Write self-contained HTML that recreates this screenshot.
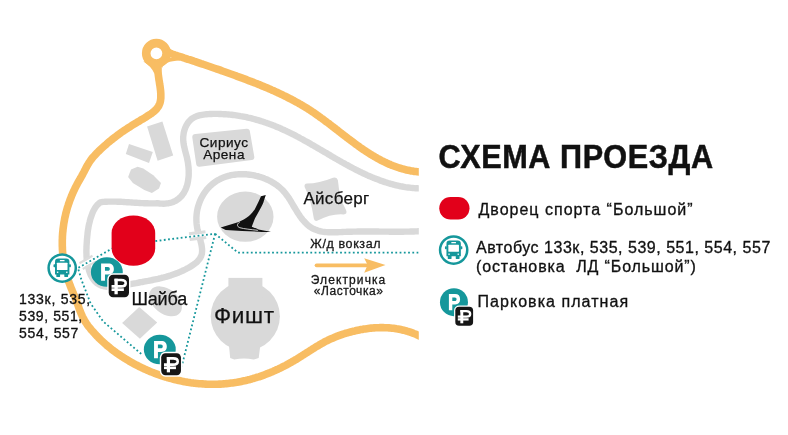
<!DOCTYPE html>
<html>
<head>
<meta charset="utf-8">
<style>
html,body{margin:0;padding:0;background:#fff;width:788px;height:435px;overflow:hidden}
svg{display:block;position:absolute;left:0;top:0;will-change:transform}
text{font-family:"Liberation Sans",sans-serif;fill:#111}
</style>
</head>
<body>
<svg width="788" height="435" viewBox="0 0 788 435">
<defs>
<clipPath id="mapclip"><rect x="0" y="0" width="418.8" height="435"/></clipPath>
</defs>
<g clip-path="url(#mapclip)">
<!-- gray roads -->
<path fill="none" stroke="#d9d9d9" stroke-width="6.4" stroke-linecap="butt" stroke-linejoin="round" d="M425.1,188.5 L423.5,188.5 L421.9,188.5 L420.4,188.5 L418.8,188.4 L417.3,188.3 L415.7,188.3 L414.2,188.1 L412.7,188.0 L411.2,187.9 L409.7,187.7 L408.2,187.5 L406.7,187.3 L405.2,187.1 L403.7,186.8 L402.2,186.5 L400.8,186.3 L399.3,186.0 L397.8,185.6 L396.4,185.3 L394.9,185.0 L393.5,184.6 L392.1,184.2 L390.6,183.8 L389.2,183.4 L387.8,183.0 L386.4,182.5 L385.0,182.1 L383.5,181.6 L382.1,181.1 L380.7,180.7 L379.3,180.1 L378.0,179.6 L376.6,179.1 L375.2,178.5 L373.8,178.0 L372.4,177.4 L371.1,176.8 L369.7,176.3 L368.3,175.7 L367.0,175.1 L365.6,174.4 L364.3,173.8 L362.9,173.2 L361.6,172.5 L360.2,171.9 L358.9,171.2 L357.5,170.5 L356.2,169.9 L354.9,169.2 L353.5,168.5 L352.2,167.8 L350.9,167.1 L349.5,166.4 L348.2,165.6 L346.9,164.9 L345.6,164.2 L344.2,163.4 L342.9,162.7 L341.6,162.0 L340.3,161.2 L339.0,160.5 L337.7,159.7 L336.4,159.0 L335.0,158.2 L333.7,157.4 L332.4,156.7 L331.1,155.9 L329.8,155.1 L328.5,154.4 L327.2,153.6 L325.9,152.8 L324.6,152.1 L323.2,151.3 L321.9,150.5 L320.6,149.7 L319.3,149.0 L318.0,148.2 L316.7,147.4 L315.4,146.7 L314.1,145.9 L312.7,145.2 L311.4,144.4 L310.1,143.6 L308.8,142.9 L307.5,142.1 L306.1,141.4 L304.8,140.7 L303.5,139.9 L302.2,139.2 L300.8,138.5 L299.5,137.8 L298.2,137.0 L296.8,136.3 L295.5,135.6 L294.2,134.9 L292.8,134.3 L291.5,133.6 L290.1,132.9 L288.8,132.2 L287.4,131.6 L286.0,130.9 L284.7,130.3 L283.3,129.7 L281.9,129.1 L280.6,128.4 L279.2,127.8 L277.8,127.3 L276.4,126.7 L275.0,126.1 L273.7,125.6 L272.3,125.0 L270.9,124.5 L269.5,124.0 L268.0,123.4 L266.6,122.9 L265.2,122.5 L263.8,122.0 L262.4,121.5 L261.0,121.1 L259.5,120.6 L258.1,120.2 L256.6,119.8 L255.2,119.4 L253.8,119.0 L252.3,118.6 L250.9,118.2 L249.4,117.9 L247.9,117.6 L246.5,117.2 L245.0,116.9 L243.5,116.6 L242.0,116.3 L240.5,116.1 L239.1,115.8 L237.6,115.6 L236.1,115.4 L234.6,115.2 L233.1,115.0 L231.5,114.8 L230.0,114.6 L228.5,114.5 L227.0,114.4 L225.4,114.2 L223.9,114.2 L222.4,114.1 L220.8,114.0 L219.3,114.0 L217.7,113.9 L216.2,113.9 L214.6,113.9 L213.0,113.9 L211.5,114.0 L209.9,114.0 L208.3,114.1 L206.7,114.2 L205.2,114.4 L203.6,114.6 L202.1,114.8 L200.6,115.1 L199.2,115.4 L197.8,115.8 L196.4,116.3 L195.1,116.9 L193.9,117.5 L192.7,118.2 L191.5,119.0 L190.5,119.9 L189.5,120.9 L188.6,122.0 L187.7,123.1 L187.0,124.3 L186.3,125.6 L185.6,126.9 L185.1,128.2 L184.6,129.6 L184.2,131.0 L183.8,132.5 L183.6,133.9 L183.4,135.4 L183.2,136.9 L183.2,138.4 L183.2,139.9 L183.3,141.4 L183.5,142.9 L183.7,144.4 L184.0,145.9 L184.3,147.3 L184.7,148.8 L185.0,150.3 L185.4,151.8 L185.8,153.3 L186.2,154.8 L186.6,156.3 L187.0,157.8 L187.3,159.3 L187.6,160.9 L187.9,162.4 L188.1,164.0 L188.3,165.6 L188.5,167.2 L188.6,168.8 L188.7,170.3 L188.7,171.9 L188.7,173.5 L188.7,175.1 L188.6,176.6 L188.4,178.2 L188.2,179.7 L188.0,181.2 L187.7,182.6 L187.4,184.1 L187.0,185.5 L186.5,186.9 L186.0,188.3 L185.5,189.6 L184.9,190.8 L184.2,192.1 L183.5,193.3 L182.7,194.4 L181.9,195.5 L181.0,196.5 L180.0,197.5 L179.0,198.4 L177.9,199.3 L176.8,200.0 L175.6,200.8 L174.3,201.4 L173.0,202.0 L171.6,202.5 L170.1,202.9 L168.6,203.2 L166.9,203.4 L165.3,203.6 L163.5,203.7 L161.7,203.6 L159.8,203.5 L158.4,203.3 L156.9,203.3 L155.3,203.4 L153.7,203.4 L152.2,203.4 L150.6,203.4 L149.0,203.4 L147.4,203.3 L145.9,203.3 L144.3,203.2 L142.7,203.1 L141.2,203.1 L139.6,203.0 L138.0,202.9 L136.5,202.8 L134.9,202.7 L133.3,202.6 L131.8,202.5 L130.2,202.4 L128.6,202.3 L127.1,202.2 L125.5,202.1 L123.9,202.0 L122.4,201.9 L120.8,201.8 L119.2,201.7 L117.7,201.7 L116.1,201.6 L114.5,201.6 L113.0,201.6 L111.4,201.6 L109.8,201.6 L108.3,201.6 L106.7,201.7 L105.1,201.8 L103.6,201.9 L102.0,202.0 L100.4,202.4 L99.3,203.2 L98.2,204.2 L97.1,205.2 L96.2,206.3 L95.4,207.4 L94.6,208.7 L93.9,210.0 L93.2,211.3 L92.6,212.6 L92.1,214.0 L91.6,215.4 L91.1,216.8 L90.6,218.2 L90.2,219.6 L89.8,221.1 L89.5,222.5 L89.1,224.0 L88.8,225.4 L88.5,226.9 L88.3,228.4 L88.0,229.9 L87.8,231.4 L87.6,232.9 L87.5,234.4 L87.3,235.9 L87.2,237.4 L87.0,238.9 L86.9,240.5 L86.8,242.0 L86.7,243.5 L86.6,245.1 L86.5,246.6 L86.5,248.1 L86.4,249.7 L86.4,251.2 L86.4,252.7 L86.5,254.3 L86.5,255.8 L86.6,257.3 L86.7,258.8 L86.9,260.3 L87.1,261.8 L87.3,263.3 L87.6,264.8 L87.9,266.3 L88.3,267.8 L88.7,269.2 L89.1,270.7 L89.6,272.1 L90.1,273.5 L90.7,274.9 L91.4,276.2 L92.1,277.4 L92.9,278.7 L93.7,279.8 L94.6,280.9 L95.6,281.9 L96.6,282.8 L97.7,283.6 L98.9,284.4 L100.1,285.0 L101.5,285.6 L102.9,286.0 L104.3,286.4 L105.8,286.6 L107.3,286.8 L108.8,287.0 L110.3,287.0 L111.8,287.0 L113.4,287.0 L114.9,286.9 L116.5,286.7 L118.0,286.5 L119.6,286.3 L121.1,286.1 L122.7,285.8 L124.2,285.5 L125.7,285.2 L127.3,284.9 L128.8,284.5 L130.3,284.2 L131.8,283.9 L133.3,283.6 L134.8,283.3 L136.3,283.1 L137.8,282.8 L139.3,282.5 L140.8,282.2 L142.3,282.0 L143.8,281.7 L145.2,281.4 L146.7,281.1 L148.1,280.9 L149.6,280.6 L151.0,280.3 L152.5,280.0 L153.9,279.7 L155.4,279.4 L156.8,279.1 L158.2,278.8 L159.7,278.4 L161.1,278.1 L162.5,277.7 L163.9,277.4 L165.4,277.0 L166.8,276.6 L168.2,276.2 L169.6,275.7 L171.0,275.3 L172.5,274.8 L173.9,274.3 L175.3,273.8 L176.7,273.2 L178.1,272.7 L179.5,272.1 L181.0,271.5 L182.4,270.8 L183.8,270.2 L185.2,269.5 L186.7,268.7 L188.1,268.0 L189.5,267.2 L190.9,266.4 L192.2,265.5 L193.5,264.6 L194.8,263.7 L196.0,262.8 L197.1,261.8 L198.1,260.7 L199.0,259.7 L199.8,258.6 L200.5,257.4 L201.1,256.2 L201.5,255.0 L201.9,253.8 L202.0,252.5 L202.1,251.1 L202.1,249.8 L202.0,248.4 L201.8,246.9 L201.6,245.5 L201.3,244.0 L200.9,242.5 L200.6,241.0 L200.1,239.5 L199.7,238.0 L199.3,236.4 L198.8,234.8 L198.4,233.3 L198.0,231.7 L197.6,230.1 L197.3,228.5 L197.0,226.9 L196.8,225.3 L196.6,223.8 L196.5,222.2 L196.4,220.6 L196.4,219.1 L196.4,217.5 L196.5,216.0 L196.6,214.4 L196.8,212.9 L197.0,211.4 L197.3,209.9 L197.6,208.4 L198.0,207.0 L198.4,205.5 L198.9,204.1 L199.4,202.7 L199.9,201.3 L200.5,199.9 L201.1,198.6 L201.8,197.3 L202.5,196.0 L203.2,194.7 L204.0,193.5 L204.8,192.3 L205.7,191.1 L206.6,189.9 L207.5,188.8 L208.5,187.7 L209.5,186.7 L210.6,185.7 L211.6,184.7 L212.7,183.8 L213.9,182.9 L215.1,182.0 L216.3,181.2 L217.5,180.4 L218.8,179.7 L220.1,179.0 L221.4,178.4 L222.7,177.8 L224.1,177.3 L225.5,176.8 L226.9,176.3 L228.3,175.9 L229.8,175.5 L231.3,175.2 L232.7,174.9 L234.3,174.7 L235.8,174.5 L237.3,174.4 L238.8,174.2 L240.4,174.2 L241.9,174.2 L243.5,174.2 L245.0,174.2 L246.6,174.3 L248.1,174.5 L249.7,174.7 L251.3,174.9 L252.8,175.1 L254.3,175.4 L255.9,175.8 L257.4,176.1 L258.9,176.6 L260.4,177.0 L261.9,177.5 L263.4,178.0 L264.8,178.6 L266.3,179.2 L267.7,179.8 L269.1,180.5 L270.4,181.2 L271.8,181.9 L273.1,182.7 L274.4,183.5 L275.6,184.3 L276.9,185.2 L278.0,186.1 L279.2,187.0 L280.3,188.0 L281.4,189.0 L282.5,190.0 L283.5,191.1 L284.4,192.2 L285.4,193.3 L286.2,194.5 L287.1,195.6 L288.0,196.8 L288.8,198.0 L289.6,199.3 L290.4,200.5 L291.1,201.8 L291.9,203.1 L292.7,204.4 L293.4,205.7 L294.2,207.0 L295.0,208.3 L295.8,209.6 L296.6,210.9 L297.4,212.2 L298.2,213.5 L299.1,214.8 L299.9,216.1 L300.8,217.3 L301.7,218.6 L302.7,219.8 L303.7,220.9 L304.7,222.0 L305.7,223.1 L306.8,224.2 L307.8,225.1 L309.0,226.1 L310.1,226.9 L311.3,227.7 L312.6,228.4 L313.8,229.1 L315.1,229.6 L316.5,230.1 L317.9,230.6 L319.3,231.0 L320.7,231.3 L322.2,231.6 L323.6,231.8 L325.1,232.0 L326.7,232.1 L328.2,232.2 L329.7,232.3 L331.3,232.3 L332.9,232.3 L334.5,232.3 L336.0,232.3 L337.6,232.2 L339.2,232.1 L340.8,232.1 L342.4,232.0 L343.9,231.9 L345.5,231.9 L347.1,231.8 L348.6,231.8 L350.2,231.7 L351.7,231.7 L353.2,231.6 L354.7,231.6 L356.2,231.6 L357.7,231.5 L359.2,231.5 L360.7,231.5 L362.2,231.5 L363.6,231.5 L365.1,231.5 L366.6,231.5 L368.0,231.5 L369.5,231.5 L370.9,231.5 L372.4,231.5 L373.8,231.5 L375.3,231.5 L376.7,231.5 L378.2,231.5 L379.6,231.6 L381.1,231.6 L382.5,231.6 L384.0,231.6 L385.4,231.6 L386.9,231.6 L388.3,231.6 L389.8,231.7 L391.2,231.7 L392.7,231.7 L394.1,231.7 L395.6,231.7 L397.1,231.7 L398.6,231.7 L400.1,231.7 L401.6,231.7 L403.1,231.7 L404.6,231.6 L406.1,231.6 L407.6,231.6 L409.1,231.6 L410.7,231.5 L412.2,231.5 L413.8,231.5 L415.3,231.4 L416.9,231.4 L418.5,231.3 L420.1,231.2 L421.7,231.2 L423.4,231.1 L425.0,231.0"/>
<!-- crossings -->
<g transform="translate(87.6,262.4) rotate(-29.8)">
<rect x="-9" y="-2.3" width="18" height="4.6" fill="#fff"/>
<rect x="-7.5" y="-4.4" width="15" height="2.1" fill="#dcdcdc"/>
<rect x="-7.5" y="2.3" width="15" height="2.1" fill="#dcdcdc"/>
</g>
<g transform="translate(197.6,235.6) rotate(-6.9)">
<rect x="-9" y="-1.4" width="18" height="2.8" fill="#fff"/>
<rect x="-8.3" y="-4.4" width="16.6" height="3" fill="#dcdcdc"/>
<rect x="-8.3" y="1.4" width="16.6" height="3" fill="#dcdcdc"/>
</g>
<!-- buildings -->
<g fill="#d9d9d9">
<polygon points="147.1,126.4 162.4,121.6 173.2,155.5 157.6,160.7"/>
<polygon points="129,144.1 152.8,152.1 149,163.1 125.8,154"/>
<polygon points="137.6,166.7 143.3,168.6 153.3,175.2 161,182.9 159,188.6 151.9,192.9 144.3,190 132.9,182.9 128.1,177.1 131,169.5"/>
<path d="M195.5,134.1 L246.5,128.8 Q249.5,128.5 249.9,131.5 L254.3,156.7 Q254.7,159.7 251.7,160.1 L199.6,166.7 Q196.6,167 196.2,164 L192.3,137.4 Q192,134.4 195.5,134.1Z"/>
<ellipse cx="245.3" cy="216.7" rx="28.2" ry="25.1"/>
<path d="M304.6,187 Q304,184 307,183.6 Q319,183.5 333,177.8 Q337,176.6 337.9,180.2 Q339.5,199 346,210 Q347.8,214.2 343.6,214.4 Q331,213.5 318.2,220.3 Q314.5,222.3 313.8,218.5 Q311,199 304.6,187 Z"/>
<ellipse cx="165.5" cy="301.3" rx="18.5" ry="12.3" transform="rotate(38 165.5 301.3)"/>
<polygon points="122.1,323 139.2,306.9 157.2,322.5 139.9,338.8"/>
<circle cx="245.3" cy="316.2" r="34.6"/>
<rect x="228.4" y="277.9" width="34" height="20"/>
<path d="M228.4,340 L261,340 L258.7,358.1 L253.6,359.6 Q244,357.5 234.3,359.6 L230.2,358.1 Z"/>
</g>
<!-- swoosh -->
<path fill="#111" d="M261,196.3 L265.8,195.1 C264.8,198 264,200.5 263.4,202.6 C261,208 256.5,216 254.7,219 L252.3,225.3 L251.8,226.7 C255,228 257,229 258.5,229.4 C263,230.3 267,231 271,231.7 C267,232.1 262,232 258.5,231.7 L242.1,231 L225.7,230 L220.7,227.6 L238.8,221.9 C241.5,221 246,218.5 248.9,216.1 C251.5,213.5 253.5,211 254.7,209.4 L258.5,201.7 Z"/>
<path fill="none" stroke="#e8e8e8" stroke-width="0.85" stroke-linecap="round" d="M239.4,222.3 C236.6,224.2 236.8,226.6 239.8,227.7 C244,228.9 251,229.5 257.5,230.3"/>
<!-- orange road -->
<g fill="none" stroke="#f8bd63" stroke-linecap="butt" stroke-linejoin="round">
<path stroke-width="7.6" d="M425.3,172.3 L423.7,172.3 L422.1,172.2 L420.5,172.1 L418.9,171.9 L417.3,171.8 L415.8,171.6 L414.3,171.4 L412.7,171.1 L411.2,170.9 L409.7,170.6 L408.2,170.3 L406.7,170.0 L405.2,169.6 L403.8,169.2 L402.3,168.8 L400.9,168.4 L399.5,168.0 L398.0,167.5 L396.6,167.0 L395.2,166.5 L393.8,166.0 L392.4,165.5 L391.0,164.9 L389.7,164.3 L388.3,163.8 L387.0,163.2 L385.6,162.5 L384.3,161.9 L382.9,161.2 L381.6,160.6 L380.3,159.9 L379.0,159.2 L377.7,158.5 L376.4,157.7 L375.1,157.0 L373.8,156.2 L372.5,155.5 L371.3,154.7 L370.0,153.9 L368.7,153.1 L367.5,152.3 L366.2,151.5 L365.0,150.7 L363.7,149.8 L362.5,149.0 L361.2,148.1 L360.0,147.3 L358.8,146.4 L357.6,145.5 L356.3,144.6 L355.1,143.7 L353.9,142.8 L352.7,141.9 L351.5,141.0 L350.3,140.1 L349.0,139.2 L347.8,138.3 L346.6,137.4 L345.4,136.4 L344.2,135.5 L343.0,134.6 L341.8,133.6 L340.6,132.7 L339.4,131.8 L338.2,130.8 L337.0,129.9 L335.8,129.0 L334.6,128.0 L333.4,127.1 L332.2,126.2 L331.0,125.3 L329.8,124.3 L328.6,123.4 L327.3,122.5 L326.1,121.6 L324.9,120.7 L323.7,119.8 L322.5,118.9 L321.2,118.0 L320.0,117.1 L318.8,116.2 L317.5,115.3 L316.3,114.5 L315.1,113.6 L313.8,112.7 L312.6,111.9 L311.3,111.1 L310.0,110.2 L308.8,109.4 L307.5,108.6 L306.2,107.8 L304.9,107.0 L303.7,106.3 L302.4,105.5 L301.1,104.7 L299.8,104.0 L298.5,103.2 L297.2,102.5 L295.9,101.8 L294.5,101.1 L293.2,100.3 L291.9,99.6 L290.6,98.9 L289.2,98.3 L287.9,97.6 L286.6,96.9 L285.2,96.2 L283.9,95.6 L282.5,94.9 L281.2,94.3 L279.8,93.6 L278.5,93.0 L277.1,92.3 L275.7,91.7 L274.4,91.1 L273.0,90.5 L271.6,89.9 L270.3,89.3 L268.9,88.7 L267.5,88.1 L266.1,87.5 L264.7,86.9 L263.3,86.3 L261.9,85.8 L260.6,85.2 L259.2,84.6 L257.8,84.1 L256.4,83.5 L255.0,83.0 L253.6,82.4 L252.2,81.9 L250.8,81.3 L249.3,80.8 L247.9,80.3 L246.5,79.7 L245.1,79.2 L243.7,78.7 L242.3,78.1 L240.9,77.6 L239.5,77.1 L238.0,76.6 L236.6,76.1 L235.2,75.5 L233.8,75.0 L232.4,74.5 L230.9,74.0 L229.5,73.5 L228.1,73.0 L226.7,72.5 L225.3,72.0 L223.8,71.5 L222.4,71.0 L221.0,70.4 L219.6,69.9 L218.1,69.4 L216.7,69.0 L215.3,68.5 L213.8,68.0 L212.4,67.5 L211.0,67.0 L209.6,66.5 L208.1,66.0 L206.7,65.5 L205.3,65.0 L203.8,64.5 L202.4,64.0 L201.0,63.6 L199.6,63.1 L198.1,62.6 L196.7,62.1 L195.3,61.6 L193.8,61.2 L192.4,60.7 L191.0,60.2 L189.5,59.7 L188.1,59.3 L186.7,58.8 L185.2,58.3 L183.8,57.9 L182.4,57.4 L181.0,56.9 L179.5,56.5 L178.1,56.0 L176.7,55.5 L175.2,55.1 L173.8,54.6 L172.4,54.2 L170.9,53.7 L169.5,53.2 L168.1,52.8"/>
<circle cx="156.4" cy="53.3" r="10.2" stroke-width="8.6"/>
</g>
<g fill="#f8bd63"><path d="M168,46.5 Q172.5,52 181,54.3 L166,58 Z"/><path d="M162.2,68 Q163.8,61.2 180,60.6 L180,57.5 L165,58 L161,62 Z"/><path d="M143.3,61.6 Q151,66 154.6,74 L158.5,60 Z"/></g>
<g fill="none" stroke="#f8bd63" stroke-linecap="butt" stroke-linejoin="round">
<path stroke-width="7.6" d="M158.6,62.1 L158.3,63.5 L158.1,65.0 L158.0,66.4 L158.0,67.9 L158.0,69.4 L158.0,70.9 L158.1,72.4 L158.2,73.9 L158.4,75.4 L158.6,76.9 L158.8,78.5 L159.0,80.0 L159.3,81.5 L159.5,83.0 L159.7,84.6 L160.0,86.1 L160.2,87.6 L160.4,89.2 L160.6,90.7 L160.7,92.2 L160.8,93.7 L160.8,95.3 L160.8,96.8 L160.8,98.3 L160.6,99.7 L160.4,101.1 L160.1,102.5 L159.6,103.9 L159.1,105.1 L158.4,106.4 L157.6,107.5 L156.8,108.7 L155.8,109.7 L154.7,110.8 L153.6,111.7 L152.4,112.7 L151.2,113.6 L149.9,114.5 L148.6,115.3 L147.3,116.1 L146.1,117.0 L144.8,117.8 L143.4,118.6 L142.1,119.3 L140.8,120.1 L139.5,120.9 L138.2,121.7 L136.9,122.4 L135.6,123.2 L134.3,124.0 L133.0,124.8 L131.7,125.6 L130.5,126.4 L129.2,127.2 L127.9,128.0 L126.7,128.8 L125.4,129.7 L124.1,130.5 L122.9,131.4 L121.7,132.2 L120.4,133.1 L119.2,134.0 L118.0,134.9 L116.8,135.8 L115.6,136.7 L114.4,137.6 L113.2,138.5 L112.0,139.5 L110.9,140.4 L109.7,141.4 L108.5,142.3 L107.4,143.3 L106.3,144.3 L105.1,145.3 L104.0,146.3 L102.9,147.3 L101.8,148.3 L100.7,149.3 L99.6,150.4 L98.5,151.4 L97.5,152.4 L96.4,153.5 L95.4,154.6 L94.4,155.7 L93.4,156.8 L92.4,157.9 L91.5,159.1 L90.6,160.3 L89.8,161.5 L89.0,162.7 L88.2,164.0 L87.5,165.3 L86.7,166.6 L86.0,167.9 L85.3,169.3 L84.6,170.6 L83.9,172.0 L83.2,173.3 L82.5,174.6 L81.8,175.9 L81.0,177.3 L80.3,178.6 L79.5,179.9 L78.8,181.2 L78.0,182.5 L77.3,183.9 L76.6,185.2 L75.9,186.5 L75.2,187.9 L74.6,189.2 L73.9,190.6 L73.3,191.9 L72.7,193.3 L72.1,194.7 L71.5,196.1 L71.0,197.5 L70.4,198.9 L69.9,200.3 L69.4,201.7 L68.9,203.1 L68.4,204.5 L68.0,205.9 L67.5,207.4 L67.1,208.8 L66.7,210.2 L66.3,211.7 L65.9,213.1 L65.6,214.6 L65.3,216.0 L64.9,217.5 L64.6,219.0 L64.4,220.5 L64.1,221.9 L63.8,223.4 L63.6,224.9 L63.4,226.4 L63.2,227.9 L63.0,229.4 L62.9,230.9 L62.7,232.4 L62.6,233.9 L62.5,235.4 L62.4,236.9 L62.4,238.4 L62.3,239.9 L62.3,241.5 L62.3,243.0 L62.3,244.5 L62.3,246.0 L62.4,247.5 L62.4,249.0 L62.5,250.5 L62.6,252.0 L62.7,253.5 L62.9,255.0 L63.0,256.5 L63.2,258.0 L63.4,259.5 L63.6,261.0 L63.9,262.5 L64.1,264.0 L64.4,265.5 L64.7,266.9 L65.0,268.4 L65.3,269.9 L65.7,271.3 L66.0,272.8 L66.4,274.3 L66.8,275.7 L67.2,277.1 L67.7,278.6 L68.1,280.0 L68.6,281.4 L69.1,282.8 L69.7,284.2 L70.2,285.6 L70.7,287.0 L71.3,288.4 L71.9,289.8 L72.4,291.2 L73.0,292.6 L73.6,294.0 L74.2,295.3 L74.7,296.7 L75.3,298.1 L75.9,299.5 L76.4,301.0 L76.9,302.4 L77.5,303.8 L78.0,305.2 L78.5,306.6 L79.0,308.1 L79.5,309.5 L80.1,310.9 L80.6,312.3 L81.2,313.7 L81.8,315.1 L82.4,316.5 L83.1,317.8 L83.8,319.1 L84.5,320.4 L85.3,321.7 L86.1,323.0 L86.9,324.2 L87.8,325.5 L88.7,326.7 L89.7,327.8 L90.6,329.0 L91.6,330.2 L92.6,331.3 L93.6,332.4 L94.6,333.5 L95.6,334.6 L96.6,335.7 L97.7,336.8 L98.7,337.9 L99.8,338.9 L100.9,340.0 L102.0,341.0 L103.1,342.0 L104.2,343.0 L105.3,344.0 L106.4,345.0 L107.6,346.0 L108.7,346.9 L109.9,347.8 L111.1,348.8 L112.2,349.7 L113.4,350.6 L114.6,351.5 L115.8,352.4 L117.1,353.3 L118.3,354.1 L119.5,355.0 L120.8,355.8 L122.0,356.6 L123.3,357.4 L124.6,358.3 L125.8,359.0 L127.1,359.8 L128.4,360.6 L129.7,361.4 L131.0,362.1 L132.3,362.8 L133.7,363.6 L135.0,364.3 L136.3,365.0 L137.7,365.7 L139.0,366.4 L140.4,367.0 L141.7,367.7 L143.1,368.3 L144.5,369.0 L145.8,369.6 L147.2,370.2 L148.6,370.8 L150.0,371.4 L151.4,372.0 L152.8,372.5 L154.2,373.1 L155.6,373.6 L157.0,374.1 L158.5,374.6 L159.9,375.1 L161.3,375.6 L162.8,376.1 L164.2,376.6 L165.6,377.0 L167.1,377.5 L168.5,377.9 L170.0,378.3 L171.5,378.7 L172.9,379.1 L174.4,379.5 L175.8,379.8 L177.3,380.2 L178.8,380.5 L180.3,380.8 L181.7,381.1 L183.2,381.4 L184.7,381.7 L186.2,381.9 L187.7,382.2 L189.2,382.4 L190.6,382.7 L192.1,382.9 L193.6,383.1 L195.1,383.2 L196.6,383.4 L198.1,383.6 L199.6,383.7 L201.1,383.8 L202.6,383.9 L204.1,384.0 L205.6,384.1 L207.1,384.2 L208.6,384.2 L210.1,384.2 L211.6,384.3 L213.1,384.3 L214.6,384.3 L216.1,384.2 L217.6,384.2 L219.1,384.1 L220.6,384.1 L222.1,384.0 L223.6,383.9 L225.1,383.8 L226.6,383.6 L228.1,383.5 L229.6,383.3 L231.1,383.1 L232.5,382.9 L234.0,382.7 L235.5,382.5 L237.0,382.3 L238.5,382.0 L239.9,381.7 L241.4,381.4 L242.9,381.1 L244.4,380.8 L245.8,380.5 L247.3,380.1 L248.7,379.7 L250.2,379.4 L251.6,379.0 L253.1,378.5 L254.5,378.1 L256.0,377.7 L257.4,377.2 L258.9,376.8 L260.3,376.3 L261.7,375.8 L263.1,375.3 L264.5,374.8 L266.0,374.2 L267.4,373.7 L268.8,373.1 L270.2,372.6 L271.6,372.0 L273.0,371.4 L274.3,370.8 L275.7,370.2 L277.1,369.5 L278.5,368.9 L279.8,368.3 L281.2,367.6 L282.5,366.9 L283.9,366.2 L285.2,365.6 L286.6,364.9 L287.9,364.1 L289.2,363.4 L290.5,362.7 L291.8,361.9 L293.1,361.2 L294.4,360.4 L295.7,359.7 L297.0,358.9 L298.3,358.1 L299.5,357.3 L300.8,356.5 L302.1,355.7 L303.3,354.9 L304.6,354.1 L305.8,353.3 L307.1,352.5 L308.4,351.7 L309.6,350.9 L310.9,350.1 L312.1,349.3 L313.4,348.5 L314.7,347.7 L315.9,346.9 L317.2,346.2 L318.5,345.4 L319.8,344.6 L321.1,343.9 L322.4,343.2 L323.7,342.4 L325.0,341.7 L326.3,341.0 L327.7,340.4 L329.0,339.7 L330.4,339.1 L331.8,338.5 L333.2,337.9 L334.6,337.3 L336.0,336.7 L337.4,336.2 L338.8,335.6 L340.2,335.1 L341.7,334.6 L343.1,334.1 L344.6,333.7 L346.1,333.2 L347.5,332.8 L349.0,332.4 L350.5,332.0 L351.9,331.6 L353.4,331.2 L354.9,330.9 L356.4,330.5 L357.8,330.2 L359.3,329.9 L360.8,329.6 L362.3,329.4 L363.8,329.1 L365.3,328.9 L366.8,328.7 L368.2,328.5 L369.7,328.3 L371.2,328.1 L372.7,328.0 L374.2,327.9 L375.7,327.8 L377.2,327.7 L378.7,327.7 L380.1,327.6 L381.6,327.6 L383.1,327.6 L384.6,327.7 L386.1,327.7 L387.6,327.8 L389.0,327.9 L390.5,328.0 L392.0,328.2 L393.5,328.3 L394.9,328.5 L396.4,328.8 L397.9,329.0 L399.3,329.3 L400.8,329.6 L402.3,329.9 L403.7,330.2 L405.2,330.6 L406.6,331.0 L408.0,331.5 L409.5,331.9 L410.9,332.4 L412.3,332.9 L413.8,333.5 L415.2,334.0 L416.6,334.6 L418.0,335.3 L419.4,335.9 L420.8,336.6 L422.2,337.4 L423.6,338.1 L425.0,338.9"/>
</g>
<!-- red -->
<rect x="111.6" y="215.4" width="43.6" height="50.4" rx="21.8" ry="17.5" fill="#e2001a"/>
<!-- dotted -->
<g fill="none" stroke="#15979b" stroke-width="1.8" stroke-dasharray="1.8 2.45">
<path d="M78.4,267.8 L111.9,248.6"/>
<path d="M155.4,241 L215.1,233.8"/>
<path d="M215.1,233.8 L237.9,252.6 L425,252.6"/>
<path d="M215.1,233.8 L181.8,366"/>
<path d="M78.4,269.5 L81.5,280 L90.6,303.4 L103.3,321.6 L141.9,354.5"/>
</g>
<!-- icons -->
<g transform="translate(62.2,268.1)">
<circle cx="0" cy="0" r="13.6" fill="#fff" stroke="#15979b" stroke-width="2.5"/>
<g fill="#15979b">
<path d="M-7.2,-6.4 Q-7.2,-9.6 -4,-9.6 L4,-9.6 Q7.2,-9.6 7.2,-6.4 L7.2,6.3 L-7.2,6.3 Z"/>
<rect x="-8.7" y="-3.8" width="1.9" height="3" rx="0.7"/>
<rect x="6.8" y="-3.8" width="1.9" height="3" rx="0.7"/>
<rect x="-5.9" y="5" width="3.8" height="4" rx="0.9"/>
<rect x="2.1" y="5" width="3.8" height="4" rx="0.9"/>
</g>
<g fill="#fff">
<rect x="-5.3" y="-5.4" width="10.6" height="7.2" rx="0.5"/>
<rect x="-2.4" y="-8.1" width="4.8" height="1.2" rx="0.5"/>
<rect x="-5.3" y="3.5" width="1.4" height="1.3"/>
<rect x="3.9" y="3.5" width="1.4" height="1.3"/>
</g></g>
<g transform="translate(106.85,272) scale(1.14,1.06)">
<circle cx="0" cy="0" r="14" fill="#15979b"/>
<path fill="#fff" fill-rule="evenodd" d="M-5.05,8.15 V-8.05 H1.2 C4.5,-8.05 6.15,-6.2 6.15,-2.9 C6.15,0.4 4.5,2.25 1.2,2.25 H-1.65 V8.15 Z M-1.65,-4.7 H0.9 C2.1,-4.7 2.6,-3.9 2.6,-2.9 C2.6,-1.9 2.1,-1.1 0.9,-1.1 H-1.65 Z"/></g>
<g transform="translate(108.7,274.8) scale(1.14,1.18)">
<rect x="-1.25" y="-1.25" width="20.3" height="21.5" rx="5" fill="#fff"/>
<rect x="0" y="0" width="17.8" height="19" rx="3.8" fill="#161616"/>
<g fill="none" stroke="#fff">
<path d="M6.5,3.3 V16.5" stroke-width="2.9"/>
<path d="M5.05,4.4 H10.9 C13.7,4.4 14.9,5.7 14.9,7.1 C14.9,8.5 13.7,9.8 10.9,9.8 H2.5" stroke-width="2.3"/>
<path d="M2.5,12.6 H13.3" stroke-width="2.3"/>
</g></g>
<g transform="translate(159.8,349.5) scale(1.14,1.06)">
<circle cx="0" cy="0" r="14" fill="#15979b"/>
<path fill="#fff" fill-rule="evenodd" d="M-5.05,8.15 V-8.05 H1.2 C4.5,-8.05 6.15,-6.2 6.15,-2.9 C6.15,0.4 4.5,2.25 1.2,2.25 H-1.65 V8.15 Z M-1.65,-4.7 H0.9 C2.1,-4.7 2.6,-3.9 2.6,-2.9 C2.6,-1.9 2.1,-1.1 0.9,-1.1 H-1.65 Z"/></g>
<g transform="translate(161.2,353.2) scale(1.11,1.16)">
<rect x="-1.25" y="-1.25" width="20.3" height="21.5" rx="5" fill="#fff"/>
<rect x="0" y="0" width="17.8" height="19" rx="3.8" fill="#161616"/>
<g fill="none" stroke="#fff">
<path d="M6.5,3.3 V16.5" stroke-width="2.9"/>
<path d="M5.05,4.4 H10.9 C13.7,4.4 14.9,5.7 14.9,7.1 C14.9,8.5 13.7,9.8 10.9,9.8 H2.5" stroke-width="2.3"/>
<path d="M2.5,12.6 H13.3" stroke-width="2.3"/>
</g></g>
<!-- labels -->
<text x="19" y="304" font-size="14" letter-spacing="0.73" stroke="#111" stroke-width="0.32">133к, 535,</text>
<text x="19" y="321" font-size="14" letter-spacing="0.6" stroke="#111" stroke-width="0.32">539, 551,</text>
<text x="19" y="338" font-size="14" letter-spacing="0.7" stroke="#111" stroke-width="0.32">554, 557</text>
<text x="131.5" y="304.6" font-size="18" letter-spacing="-0.2" stroke="#111" stroke-width="0.25">Шайба</text>
<text x="214" y="322.6" font-size="22.5" letter-spacing="0.7" stroke="#111" stroke-width="0.25">Фишт</text>
<text x="303.4" y="203.6" font-size="17" letter-spacing="0.3" stroke="#111" stroke-width="0.25">Айсберг</text>
<text x="310.3" y="247.6" font-size="12.5" letter-spacing="0.6" fill="#222" stroke="#222" stroke-width="0.3">Ж/д вокзал</text>
<text x="310.8" y="283.9" font-size="12" letter-spacing="1.1" fill="#222" stroke="#222" stroke-width="0.3">Электричка</text>
<text x="313.8" y="294.8" font-size="12" letter-spacing="0.55" fill="#222" stroke="#222" stroke-width="0.3">«Ласточка»</text>
<text x="199.5" y="146.8" font-size="13.6" letter-spacing="0.5" stroke="#111" stroke-width="0.25">Сириус</text>
<text x="203.2" y="158.5" font-size="13.6" letter-spacing="0.5" stroke="#111" stroke-width="0.25">Арена</text>
</g>
<!-- arrow -->
<path d="M316.5,265.3 L367,265.3" stroke="#f8bd63" stroke-width="3.7" stroke-linecap="round" fill="none"/>
<path d="M385.5,264.9 L364.2,258.3 L367.6,265.1 L364.2,272.8 Z" fill="#f8bd63"/>
<!-- title / legend -->
<text x="438.6" y="168.3" font-size="32.8" font-weight="bold" letter-spacing="0.6" stroke="#111" stroke-width="0.5" transform="translate(438.6 0) scale(0.935 1) translate(-438.6 0)">СХЕМА ПРОЕЗДА</text>
<rect x="439.25" y="197" width="30.25" height="22.5" rx="11.25" fill="#e2001a"/>
<text x="478.5" y="214.5" font-size="16" letter-spacing="1.0" stroke="#111" stroke-width="0.32">Дворец спорта “Большой”</text>
<g transform="translate(453.65,250.05)">
<circle cx="0" cy="0" r="13.6" fill="#fff" stroke="#15979b" stroke-width="2.5"/>
<g fill="#15979b">
<path d="M-7.2,-6.4 Q-7.2,-9.6 -4,-9.6 L4,-9.6 Q7.2,-9.6 7.2,-6.4 L7.2,6.3 L-7.2,6.3 Z"/>
<rect x="-8.7" y="-3.8" width="1.9" height="3" rx="0.7"/>
<rect x="6.8" y="-3.8" width="1.9" height="3" rx="0.7"/>
<rect x="-5.9" y="5" width="3.8" height="4" rx="0.9"/>
<rect x="2.1" y="5" width="3.8" height="4" rx="0.9"/>
</g>
<g fill="#fff">
<rect x="-5.3" y="-5.4" width="10.6" height="7.2" rx="0.5"/>
<rect x="-2.4" y="-8.1" width="4.8" height="1.2" rx="0.5"/>
<rect x="-5.3" y="3.5" width="1.4" height="1.3"/>
<rect x="3.9" y="3.5" width="1.4" height="1.3"/>
</g></g>
<text x="476" y="253.2" font-size="16" letter-spacing="0.52" stroke="#111" stroke-width="0.32">Автобус 133к, 535, 539, 551, 554, 557</text>
<text x="476" y="272.2" font-size="16" letter-spacing="0.875" stroke="#111" stroke-width="0.32" style="white-space:pre">(остановка  ЛД “Большой”)</text>
<g transform="translate(453.95,302.15)">
<circle cx="0" cy="0" r="14" fill="#15979b"/>
<path fill="#fff" fill-rule="evenodd" d="M-5.05,8.15 V-8.05 H1.2 C4.5,-8.05 6.15,-6.2 6.15,-2.9 C6.15,0.4 4.5,2.25 1.2,2.25 H-1.65 V8.15 Z M-1.65,-4.7 H0.9 C2.1,-4.7 2.6,-3.9 2.6,-2.9 C2.6,-1.9 2.1,-1.1 0.9,-1.1 H-1.65 Z"/></g>
<g transform="translate(455.3,306.8)">
<rect x="-1.25" y="-1.25" width="20.3" height="21.5" rx="5" fill="#fff"/>
<rect x="0" y="0" width="17.8" height="19" rx="3.8" fill="#161616"/>
<g fill="none" stroke="#fff">
<path d="M6.5,3.3 V16.5" stroke-width="2.9"/>
<path d="M5.05,4.4 H10.9 C13.7,4.4 14.9,5.7 14.9,7.1 C14.9,8.5 13.7,9.8 10.9,9.8 H2.5" stroke-width="2.3"/>
<path d="M2.5,12.6 H13.3" stroke-width="2.3"/>
</g></g>
<text x="477.5" y="307.2" font-size="16" letter-spacing="1.05" stroke="#111" stroke-width="0.32">Парковка платная</text>
</svg>
</body>
</html>
